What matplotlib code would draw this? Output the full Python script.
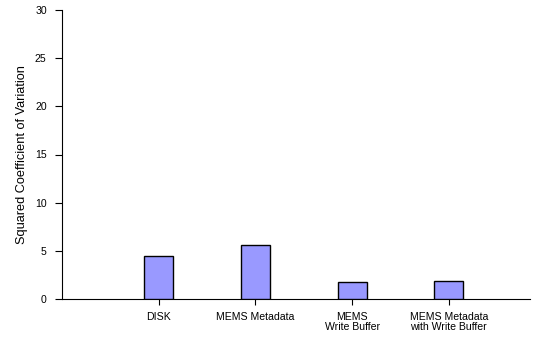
import matplotlib
matplotlib.use("Agg")
import matplotlib.pyplot as plt

categories = ["DISK", "MEMS Metadata", "MEMS\nWrite Buffer", "MEMS Metadata\nwith Write Buffer"]
values = [4.5, 5.6, 1.8, 1.9]
yticks = [0, 5, 10, 15, 20, 25, 30]

plt.rcParams['font.family'] = ['Liberation Sans', 'DejaVu Sans']
fig = plt.figure(figsize=(5.38, 3.41), dpi=100)
ax = fig.add_axes([62/538, 1-299/341, (530-62)/538, (299-10)/341])
x = list(range(len(categories)))
ax.bar(x, values, width=0.3, color="#9999FF", edgecolor="black", linewidth=1.0, zorder=3)
ax.set_xlim(-1.0, 3.84)
ax.set_ylim(0, 30)
ax.set_yticks(yticks)
ax.set_xticks(x)
ax.set_xticklabels(categories, fontsize=7.6, linespacing=1.1)
ax.tick_params(axis='y', labelsize=7.6, length=5, width=0.8, pad=6)
ax.tick_params(axis='x', length=4, width=0.8, pad=5)
ax.spines['top'].set_visible(False)
ax.spines['right'].set_visible(False)
ax.spines['left'].set_linewidth(0.8)
ax.spines['bottom'].set_linewidth(0.8)
ax.set_ylabel("Squared Coefficient of Variation", fontsize=9.2, labelpad=5)
fig.savefig("out.png", dpi=100)
